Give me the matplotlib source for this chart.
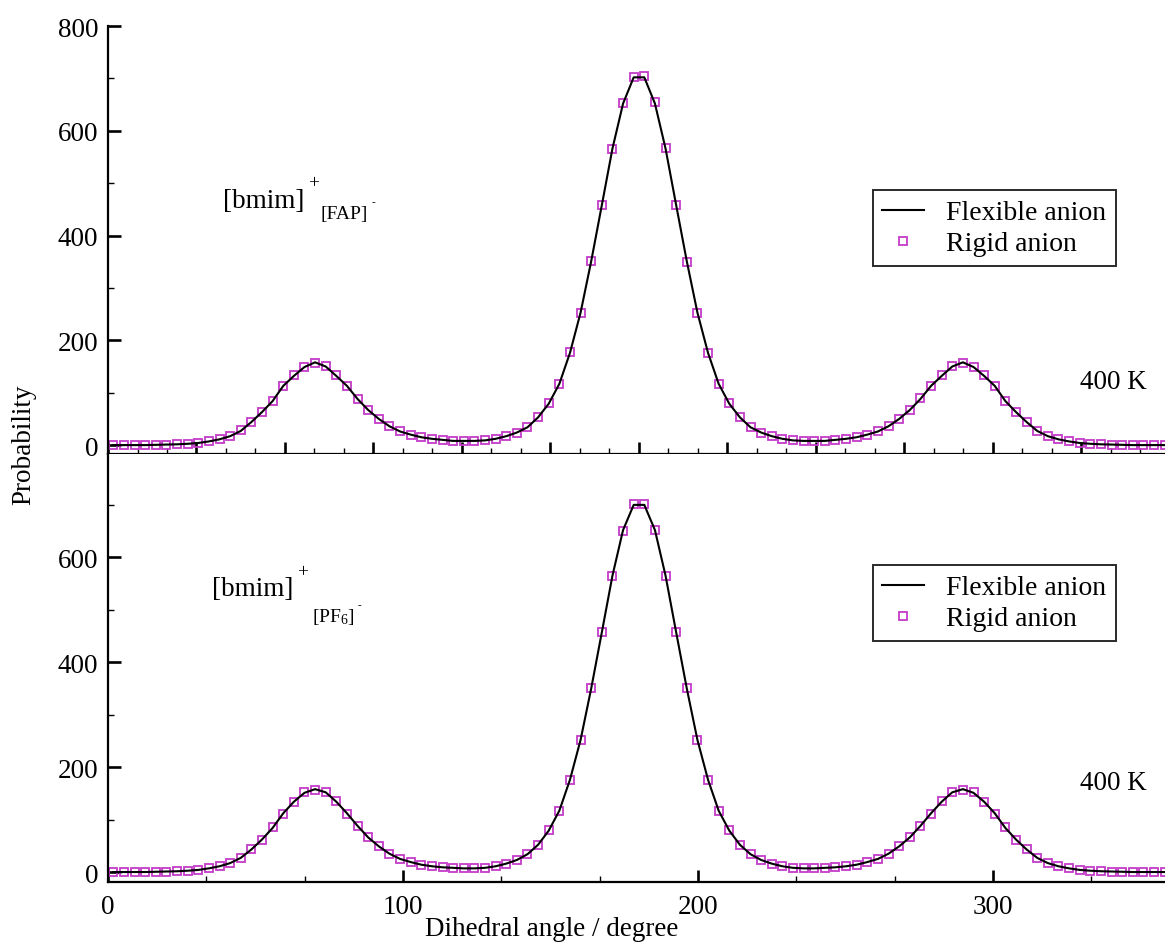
import numpy as np
import matplotlib
matplotlib.use("Agg")
import matplotlib.pyplot as plt
from matplotlib.ticker import MultipleLocator, FixedLocator

plt.rcParams['font.family'] = ['Liberation Serif', 'DejaVu Serif']
plt.rcParams['mathtext.fontset'] = 'custom'
plt.rcParams['mathtext.rm'] = 'Liberation Serif'
plt.rcParams['mathtext.it'] = 'Liberation Serif:italic'

W, H = 1165, 953

# bin centres (3.6 degree bins)
angle = np.arange(1.8, 360.0, 3.6)

flexible_fap = [
    0, 0, 0, 0, 0.5, 1, 1.5, 2.5, 4, 7,
    11, 17, 27, 44, 63, 84, 113, 132, 149, 158,
    150, 132, 113, 88, 67, 50, 36, 26, 20, 15,
    12, 10, 8, 8, 8, 9, 12, 17, 24, 34,
    53, 79, 117, 176, 253, 351, 458, 566, 652, 702,
    702, 652, 566, 458, 351, 253, 176, 117, 79, 53,
    34, 24, 17, 12, 9, 8, 8, 8, 10, 12,
    15, 20, 26, 36, 50, 67, 88, 113, 132, 150,
    158, 149, 132, 113, 84, 63, 44, 27, 17, 11,
    7, 4, 2.5, 1.5, 1, 0.5, 0, 0, 0, 0]

rigid_fap = [
    0, 0, 0, 0, 0.5, 1, 1.5, 2.5, 4, 7,
    11, 17, 28, 44, 63, 85, 112, 133, 150, 157,
    151, 133, 112, 88, 67, 50, 36, 26, 19, 15,
    12, 10, 8, 8, 8, 9, 12, 17, 24, 35,
    53, 80, 116, 177, 252, 352, 459, 566, 653, 703,
    704, 655, 567, 459, 350, 252, 175, 116, 80, 53,
    35, 24, 17, 12, 9, 8, 8, 8, 10, 12,
    15, 20, 26, 36, 50, 67, 89, 113, 133, 151,
    156, 150, 133, 112, 85, 63, 44, 27, 17, 11,
    7, 4, 2.5, 1.5, 1, 0.5, 0, 0, 0, 0]

flexible_pf6 = [
    0, 0, 0, 0, 0.5, 1, 1.5, 2.5, 4, 7,
    11, 17, 27, 43, 62, 84, 112, 134, 151, 158,
    152, 134, 112, 88, 66, 49, 35, 25, 19, 14,
    11, 9, 8, 7, 7, 8, 11, 16, 23, 34,
    52, 79, 117, 176, 252, 350, 457, 565, 652, 700,
    700, 652, 565, 457, 350, 252, 176, 117, 79, 52,
    34, 23, 16, 11, 8, 7, 7, 8, 9, 11,
    14, 19, 25, 35, 49, 66, 88, 112, 134, 152,
    158, 151, 134, 112, 84, 62, 43, 27, 17, 11,
    7, 4, 2.5, 1.5, 1, 0.5, 0, 0, 0, 0]

rigid_pf6 = [
    0, 0, 0, 0, 0.5, 1, 1.5, 2.5, 4, 7,
    11, 17, 27, 44, 62, 85, 111, 134, 152, 157,
    153, 135, 111, 88, 66, 49, 35, 25, 19, 14,
    11, 9, 8, 7, 7, 8, 11, 16, 23, 34,
    52, 80, 116, 176, 251, 350, 457, 564, 651, 701,
    701, 653, 564, 457, 350, 251, 176, 116, 80, 52,
    34, 23, 16, 11, 8, 7, 7, 8, 9, 11,
    14, 19, 25, 35, 49, 66, 88, 111, 135, 152,
    157, 152, 134, 111, 85, 62, 44, 27, 17, 11,
    7, 4, 2.5, 1.5, 1, 0.5, 0, 0, 0, 0]

series_labels = ['Flexible anion', 'Rigid anion']
temperature_label = '400 K'
x_label = 'Dihedral angle / degree'
y_label = 'Probability'

MAG = '#C43CC8'

fig = plt.figure(figsize=(W / 100, H / 100), dpi=100)

def px(x, y):
    return x / W, 1 - y / H

left = 108 / W
width = 1062 / W
ax1 = fig.add_axes([left, 1 - 455 / H, width, (455 - 27) / H])
ax2 = fig.add_axes([left, 1 - 883 / H, width, (883 - 455) / H])

def style(ax):
    for s in ['top', 'right']:
        ax.spines[s].set_visible(False)
    for s in ['left', 'bottom']:
        ax.spines[s].set_linewidth(1.6)
    ax.tick_params(which='major', direction='in', length=9, width=1.9,
                   labelsize=19.5, pad=7)
    ax.tick_params(which='minor', direction='in', length=4.5, width=1.0)
    ax.tick_params(axis='x', which='both', top=False)
    ax.tick_params(axis='y', which='both', right=False)
    ax.set_xlim(0, 360)

for ax, flex, rig in [(ax1, flexible_fap, rigid_fap), (ax2, flexible_pf6, rigid_pf6)]:
    style(ax)
    ax.plot(angle, rig, linestyle='none', marker='s', markersize=6,
            markerfacecolor='none', markeredgecolor=MAG, markeredgewidth=1.3,
            label=series_labels[1], zorder=2)
    ax.plot(angle, flex, color='black', lw=1.5, label=series_labels[0], zorder=3)

# top panel axes
ax1.set_ylim(-17, 800)
ax1.yaxis.set_major_locator(MultipleLocator(200))
ax1.yaxis.set_minor_locator(MultipleLocator(100))
ax1.xaxis.set_major_locator(MultipleLocator(30))
ax1.xaxis.set_minor_locator(MultipleLocator(10))
ax1.tick_params(axis='x', which='both', labelbottom=False)

# bottom panel axes
ax2.set_ylim(-19, 797)
ax2.yaxis.set_major_locator(FixedLocator([0, 200, 400, 600]))
ax2.yaxis.set_minor_locator(FixedLocator([100, 300, 500, 700]))
ax2.xaxis.set_major_locator(FixedLocator([0, 100, 200, 300]))
ax2.xaxis.set_minor_locator(FixedLocator([100 / 3, 200 / 3, 400 / 3, 500 / 3,
                                          700 / 3, 800 / 3, 1000 / 3]))
ax2.tick_params(axis='x', which='major', pad=9)

# legends
for ax, bottom in [(ax1, 267), (ax2, 642)]:
    h, l = ax.get_legend_handles_labels()
    leg = ax.legend(h[::-1], l[::-1], loc='lower right',
                    bbox_to_anchor=px(1116, bottom), bbox_transform=fig.transFigure,
                    fontsize=20, frameon=True, fancybox=False, framealpha=1,
                    edgecolor='#2a2a2a', handlelength=1.5, handletextpad=0.8,
                    borderpad=0.35, labelspacing=0.2, borderaxespad=0)
    leg.get_frame().set_linewidth(1.4)

# temperature labels
fig.text(*px(1113, 383), temperature_label, fontsize=19.5, ha='center', va='center')
fig.text(*px(1113, 783), temperature_label, fontsize=19.5, ha='center', va='center')

# species labels
fig.text(*px(223, 201), '[bmim]', fontsize=19.5, ha='left', va='center')
fig.text(*px(308, 184), '+', fontsize=14, ha='left', va='center')
fig.text(*px(320, 215), '[FAP]', fontsize=14, ha='left', va='center')
fig.text(*px(372, 203), '-', fontsize=8, ha='left', va='center')

fig.text(*px(212, 590), '[bmim]', fontsize=19.5, ha='left', va='center')
fig.text(*px(297, 573), '+', fontsize=14, ha='left', va='center')
fig.text(*px(312, 617), r'[PF$_{6}$]', fontsize=14, ha='left', va='center')
fig.text(*px(358, 606), '-', fontsize=8, ha='left', va='center')

# axis labels
fig.text(*px(24, 445), y_label, fontsize=19.5, rotation=90, ha='center', va='center')
fig.text(*px(552, 930), x_label, fontsize=19.5, ha='center', va='center')

fig.savefig('out.png', dpi=100)
